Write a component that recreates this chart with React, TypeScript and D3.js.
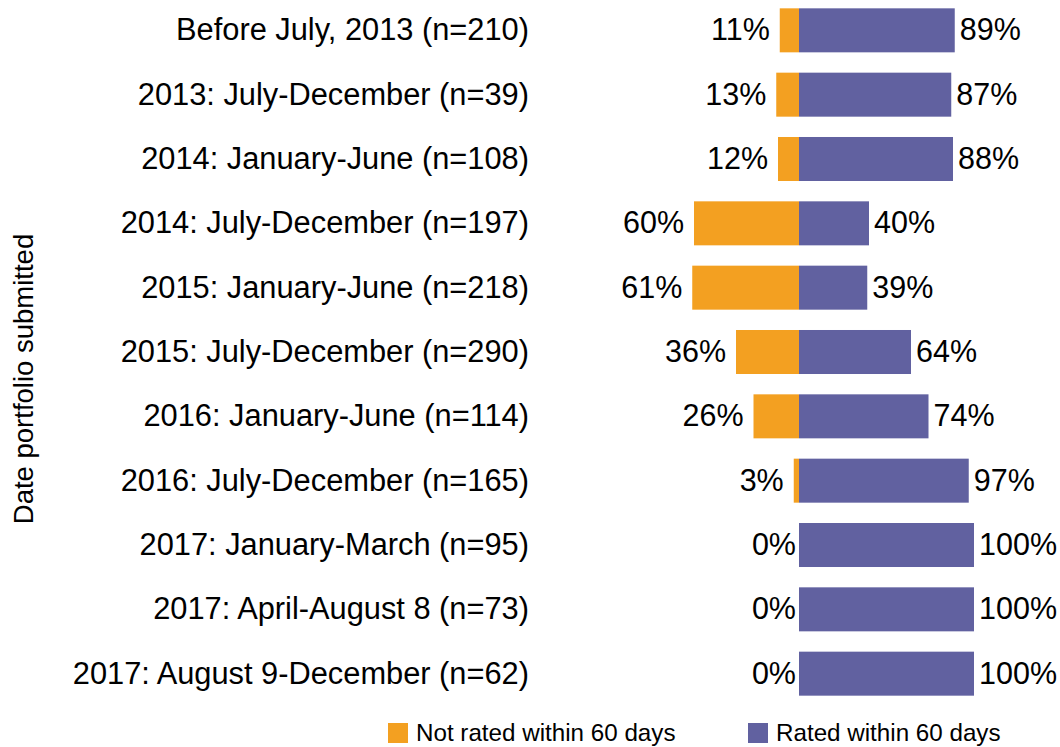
import React, { useEffect, useRef } from 'react';
import * as d3 from 'd3';

const categories = [
  'Before July, 2013 (n=210)',
  '2013: July-December (n=39)',
  '2014: January-June (n=108)',
  '2014: July-December (n=197)',
  '2015: January-June (n=218)',
  '2015: July-December (n=290)',
  '2016: January-June (n=114)',
  '2016: July-December (n=165)',
  '2017: January-March (n=95)',
  '2017: April-August 8 (n=73)',
  '2017: August 9-December (n=62)',
];
const notRated = [11, 13, 12, 60, 61, 36, 26, 3, 0, 0, 0];
const rated = [89, 87, 88, 40, 39, 64, 74, 97, 100, 100, 100];
const legendLabels = ['Not rated within 60 days', 'Rated within 60 days'];

const ORANGE = '#F3A021';
const PURPLE = '#6161A0';
const FONT = '"Liberation Sans", Arial, sans-serif';

const App: React.FC = () => {
  const ref = useRef<SVGSVGElement | null>(null);

  useEffect(() => {
    if (!ref.current) return;
    const svg = d3.select(ref.current);
    svg.selectAll('*').remove();

    const width = 1060;
    const height = 747;
    svg.attr('width', width).attr('height', height);

    // scales
    const y = d3.scaleBand<string>()
      .domain(categories)
      .range([-12, 716])
      .padding(0.316);
    const x = d3.scaleLinear().domain([-100, 100]).range([624, 974]);

    const rows = categories.map((c, i) => ({ cat: c, no: notRated[i], yes: rated[i] }));

    // category labels
    svg.append('g')
      .selectAll('text')
      .data(rows)
      .enter()
      .append('text')
      .attr('x', 529)
      .attr('y', d => (y(d.cat) as number) + y.bandwidth() / 2)
      .attr('dy', '0.33em')
      .attr('text-anchor', 'end')
      .style('font-family', FONT)
      .style('font-size', '30.8px')
      .style('fill', '#000')
      .text(d => d.cat);

    // not rated bars (left)
    svg.append('g')
      .selectAll('rect')
      .data(rows)
      .enter()
      .append('rect')
      .attr('x', d => x(-d.no))
      .attr('y', d => y(d.cat) as number)
      .attr('width', d => x(0) - x(-d.no))
      .attr('height', y.bandwidth())
      .attr('fill', ORANGE);

    // rated bars (right)
    svg.append('g')
      .selectAll('rect')
      .data(rows)
      .enter()
      .append('rect')
      .attr('x', x(0))
      .attr('y', d => y(d.cat) as number)
      .attr('width', d => x(d.yes) - x(0))
      .attr('height', y.bandwidth())
      .attr('fill', PURPLE);

    // percentage labels
    svg.append('g')
      .selectAll('text')
      .data(rows)
      .enter()
      .append('text')
      .attr('x', d => x(-d.no) - (d.no > 0 ? 10 : 3))
      .attr('y', d => (y(d.cat) as number) + y.bandwidth() / 2)
      .attr('dy', '0.33em')
      .attr('text-anchor', 'end')
      .style('font-family', FONT)
      .style('font-size', '30.5px')
      .text(d => `${d.no}%`);

    svg.append('g')
      .selectAll('text')
      .data(rows)
      .enter()
      .append('text')
      .attr('x', d => x(d.yes) + 5)
      .attr('y', d => (y(d.cat) as number) + y.bandwidth() / 2)
      .attr('dy', '0.33em')
      .attr('text-anchor', 'start')
      .style('font-family', FONT)
      .style('font-size', '30.5px')
      .text(d => `${d.yes}%`);

    // y axis title
    svg.append('text')
      .attr('transform', 'translate(33,379) rotate(-90)')
      .attr('text-anchor', 'middle')
      .style('font-family', FONT)
      .style('font-size', '27.5px')
      .text('Date portfolio submitted');

    // legend
    const legend = svg.append('g').attr('transform', 'translate(388,723)');
    const legendX = [0, 360];
    const legendColors = [ORANGE, PURPLE];
    legendLabels.forEach((label, i) => {
      const item = legend.append('g').attr('transform', `translate(${legendX[i]},0)`);
      item.append('rect')
        .attr('width', 20)
        .attr('height', 20)
        .attr('fill', legendColors[i]);
      item.append('text')
        .attr('x', 28)
        .attr('y', 10)
        .attr('dy', '0.35em')
        .style('font-family', FONT)
        .style('font-size', '24.2px')
        .text(label);
    });
  }, []);

  return (
    <svg ref={ref} style={{ position: 'absolute', left: 0, top: 0, background: '#fff' }}></svg>
  );
};

export default App;
